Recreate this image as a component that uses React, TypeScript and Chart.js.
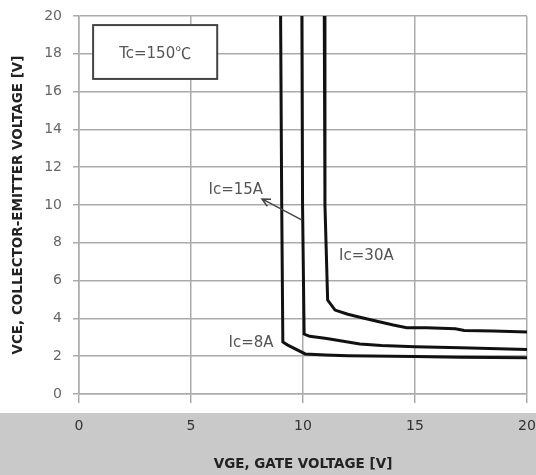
import React, { useEffect, useRef } from "react";
import { Chart, registerables } from "chart.js";

Chart.register(...registerables);

// VGE [V] / VCE [V] for each collector current
const ic8X = [9.0, 9.05, 9.1, 9.3, 10.1, 11, 12, 15, 17, 20];
const ic8Y = [20, 10, 2.75, 2.6, 2.12, 2.07, 2.03, 1.98, 1.95, 1.92];

const ic15X = [9.95, 9.98, 10.05, 10.3, 11.06, 12.54, 13.5, 15, 17.05, 20];
const ic15Y = [20, 10, 3.17, 3.05, 2.94, 2.65, 2.56, 2.5, 2.45, 2.36];

const ic30X = [10.95, 10.98, 11.1, 11.43, 12, 12.54, 13.3, 14.03, 14.63, 15.52, 16.8, 17.2, 18.5, 20];
const ic30Y = [20, 10, 4.97, 4.44, 4.22, 4.06, 3.85, 3.65, 3.51, 3.51, 3.45, 3.36, 3.33, 3.28];

const xTicks = [0, 5, 10, 15, 20];
const yTicks = [0, 2, 4, 6, 8, 10, 12, 14, 16, 18, 20];

const seriesLabels = ["Ic=8A", "Ic=15A", "Ic=30A"];

const toPts = (xs: number[], ys: number[]) => xs.map((x, i) => ({ x, y: ys[i] }));

const annotationPlugin = {
  id: "annotations",
  beforeDraw(chart: any) {
    const { ctx } = chart;
    ctx.save();
    ctx.fillStyle = "#c9c9c9";
    ctx.fillRect(0, 413, chart.width, chart.height - 413);
    ctx.restore();
  },
  afterDatasetsDraw(chart: any) {
    const { ctx, scales } = chart;
    const xs = scales.x;
    const ys = scales.y;
    const px = (v: number) => xs.getPixelForValue(v);
    const py = (v: number) => ys.getPixelForValue(v);
    ctx.save();
    // Tc box
    const bx1 = px(0.63), bx2 = px(6.17), by1 = py(19.52), by2 = py(16.67);
    ctx.fillStyle = "#ffffff";
    ctx.fillRect(bx1, by1, bx2 - bx1, by2 - by1);
    ctx.strokeStyle = "#444";
    ctx.lineWidth = 2;
    ctx.strokeRect(bx1, by1, bx2 - bx1, by2 - by1);
    ctx.fillStyle = "#555";
    const f1 = "15px 'DejaVu Sans'";
    const f2 = "16px 'Noto Sans CJK SC'";
    ctx.font = f1;
    const t1 = "Tc=150";
    const w1 = ctx.measureText(t1).width;
    ctx.font = f2;
    const w2 = ctx.measureText("℃").width;
    const start = (bx1 + bx2) / 2 - (w1 + w2) / 2;
    const base = (by1 + by2) / 2 + 5.5;
    ctx.textAlign = "left";
    ctx.textBaseline = "alphabetic";
    ctx.font = f1;
    ctx.fillText(t1, start, base);
    ctx.font = f2;
    ctx.fillText("℃", start + w1, base + 1);

    // series labels
    ctx.font = f1;
    ctx.textAlign = "center";
    ctx.textBaseline = "middle";
    ctx.fillText(seriesLabels[0], px(7.68), py(2.68));
    ctx.fillText(seriesLabels[1], px(7.0), py(10.8));
    ctx.fillText(seriesLabels[2], px(12.83), py(7.3));

    // arrow
    const x0 = px(9.96), y0 = py(9.2), x1 = px(8.17), y1 = py(10.32);
    ctx.strokeStyle = "#444";
    ctx.lineWidth = 1.5;
    ctx.beginPath();
    ctx.moveTo(x0, y0);
    ctx.lineTo(x1, y1);
    const ang = Math.atan2(y1 - y0, x1 - x0);
    const hl = 9, ha = 0.45;
    ctx.moveTo(x1 - hl * Math.cos(ang - ha), y1 - hl * Math.sin(ang - ha));
    ctx.lineTo(x1, y1);
    ctx.lineTo(x1 - hl * Math.cos(ang + ha), y1 - hl * Math.sin(ang + ha));
    ctx.stroke();
    ctx.restore();
  },
};

export default function App() {
  const ref = useRef<HTMLCanvasElement>(null);
  useEffect(() => {
    document.body.style.margin = "0";
    const gridColor = "#ababab";
    const mk = (label: string, xs: number[], ys: number[]) => ({
      label,
      data: toPts(xs, ys),
      showLine: true,
      borderColor: "#111",
      borderWidth: 3,
      pointRadius: 0,
      fill: false,
      tension: 0,
    });
    const chart = new Chart(ref.current!, {
      type: "scatter",
      data: {
        datasets: [
          mk(seriesLabels[0], ic8X, ic8Y),
          mk(seriesLabels[1], ic15X, ic15Y),
          mk(seriesLabels[2], ic30X, ic30Y),
        ],
      },
      options: {
        animation: false,
        responsive: false,
        layout: { padding: { left: 0, right: 9, top: 16, bottom: 0 } },
        plugins: { legend: { display: false }, tooltip: { enabled: false } },
        scales: {
          x: {
            type: "linear",
            min: 0,
            max: 20,
            afterFit: (s: any) => {
              s.height = 81;
              s.paddingLeft = 0;
              s.paddingRight = 0;
            },
            afterBuildTicks: (s: any) => { s.ticks = xTicks.map((v) => ({ value: v })); },
            ticks: {
              color: "#333",
              font: { family: "'DejaVu Sans'", size: 14 },
              padding: 15,
              maxRotation: 0,
            },
            grid: { color: gridColor, lineWidth: 1.5, tickLength: 9, tickColor: gridColor },
            border: { color: gridColor, width: 1.5 },
            title: {
              display: true,
              text: "VGE, GATE VOLTAGE [V]",
              color: "#222",
              font: { family: "'DejaVu Sans'", size: 13.5, weight: "bold" },
              padding: { top: 0, bottom: 2 },
            },
          },
          y: {
            type: "linear",
            min: 0,
            max: 20,
            afterFit: (s: any) => {
              s.width = 79;
              s.paddingTop = 0;
              s.paddingBottom = 0;
            },
            afterBuildTicks: (s: any) => { s.ticks = yTicks.map((v) => ({ value: v })); },
            ticks: {
              color: "#666",
              font: { family: "'DejaVu Sans'", size: 14 },
              padding: 11,
            },
            grid: { color: gridColor, lineWidth: 1.5, tickLength: 6, tickColor: gridColor },
            border: { color: gridColor, width: 1.5 },
            title: {
              display: true,
              text: "VCE, COLLECTOR-EMITTER VOLTAGE [V]",
              color: "#222",
              font: { family: "'DejaVu Sans'", size: 13.5, weight: "bold" },
              padding: { top: 10, bottom: 0 },
            },
          },
        },
      },
      plugins: [annotationPlugin],
    } as any);
    return () => chart.destroy();
  }, []);
  return (
    <div style={{ position: "fixed", left: 0, top: 0, width: 536, height: 475 }}>
      <canvas ref={ref} width={536} height={475} />
    </div>
  );
}
